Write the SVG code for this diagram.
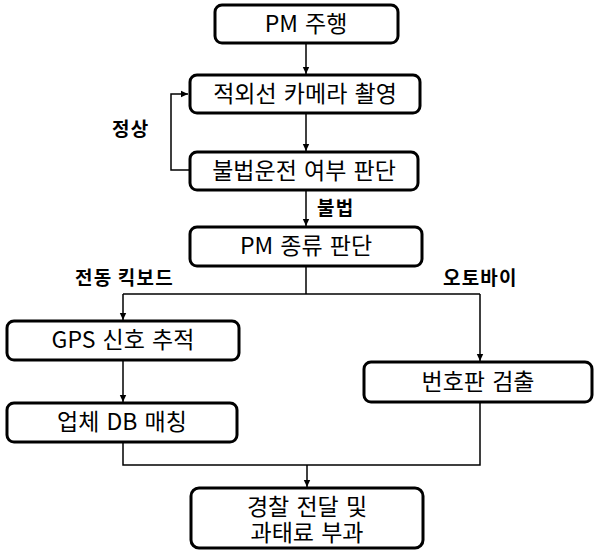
<svg xmlns="http://www.w3.org/2000/svg" width="594" height="553" viewBox="0 0 594 553">
<style>
.box{fill:#fff;stroke:#000;stroke-width:3}
.t{font-family:"Noto Sans CJK KR","Malgun Gothic",sans-serif;font-size:23px;word-spacing:2px;fill:#000;text-anchor:middle}
.lb{font-family:"Noto Sans CJK KR","Malgun Gothic",sans-serif;font-size:19px;letter-spacing:1.2px;font-weight:bold;fill:#000}
.c{fill:none;stroke:#000;stroke-width:1.5}
</style>
<defs>
<marker id="ah" markerWidth="8" markerHeight="8" refX="7" refY="4" orient="auto" markerUnits="userSpaceOnUse">
<path d="M0,0.8 L7,4 L0,7.2 Z" fill="#000"/>
</marker>
</defs>
<rect width="594" height="553" fill="#fff"/>
<g id="connectors">
<path class="c" d="M306,44 V74" marker-end="url(#ah)"/>
<path class="c" d="M306,114 V151" marker-end="url(#ah)"/>
<path class="c" d="M189,170 H171 V94 H188" marker-end="url(#ah)"/>
<path class="c" d="M306,191 V226" marker-end="url(#ah)"/>
<path class="c" d="M306,267 V294"/>
<path class="c" d="M123,294 H480"/>
<path class="c" d="M123,294 V320" marker-end="url(#ah)"/>
<path class="c" d="M480,294 V361" marker-end="url(#ah)"/>
<path class="c" d="M123,361 V402" marker-end="url(#ah)"/>
<path class="c" d="M123,443 V465 H480 V403"/>
<path class="c" d="M307,465 V487" marker-end="url(#ah)"/>
<text class="lb" x="112" y="136">정상</text>
<text class="lb" x="317" y="215">불법</text>
<text class="lb" x="75" y="285">전동 킥보드</text>
<text class="lb" x="443" y="285">오토바이</text>
</g>
<g id="n1"><rect class="box" x="215" y="5" width="183" height="38" rx="7"/><text class="t" x="306" y="32">PM 주행</text></g>
<g id="n2"><rect class="box" x="190" y="75" width="230" height="38" rx="7"/><text class="t" x="305" y="102">적외선 카메라 촬영</text></g>
<g id="n3"><rect class="box" x="190" y="152" width="228" height="38" rx="7"/><text class="t" x="304" y="179">불법운전 여부 판단</text></g>
<g id="n4"><rect class="box" x="190" y="227" width="232" height="39" rx="7"/><text class="t" x="306" y="254">PM 종류 판단</text></g>
<g id="n5"><rect class="box" x="7" y="321" width="232" height="39" rx="7"/><text class="t" x="123" y="348">GPS 신호 추적</text></g>
<g id="n6"><rect class="box" x="7" y="403" width="230" height="39" rx="7"/><text class="t" x="122" y="430">업체 DB 매칭</text></g>
<g id="n7"><rect class="box" x="364" y="362" width="228" height="40" rx="7"/><text class="t" x="478" y="390">번호판 검출</text></g>
<g id="n8"><rect class="box" x="191" y="488" width="232" height="60" rx="8"/><text class="t"><tspan x="307" y="515">경찰 전달 및</tspan><tspan x="307" y="541">과태료 부과</tspan></text></g>
</svg>
